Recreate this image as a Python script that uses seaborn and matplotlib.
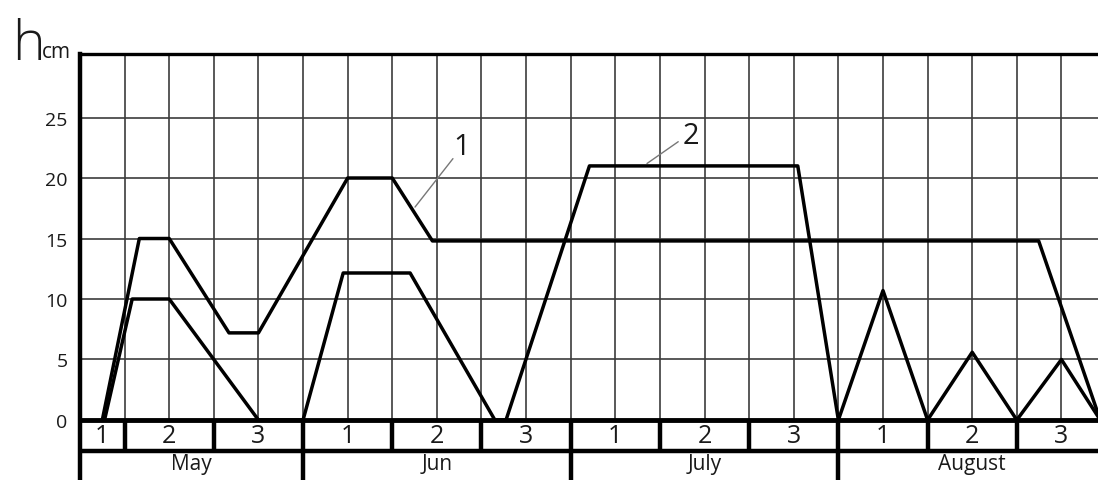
import numpy as np
import matplotlib
matplotlib.use("Agg")
import matplotlib.pyplot as plt
import seaborn as sns

# x unit = one grid cell (half a decade); May starts mid first decade
s1_x = [0.5, 1.33, 2.0, 3.34, 4.0, 6.0, 7.0, 7.9, 21.49, 22.87]
s1_y = [0.0, 15.0, 15.0, 7.2, 7.2, 20.0, 20.0, 14.8, 14.8, 0.0]

s2_x = [0.55, 1.17, 2.0, 4.0, 5.0, 5.9, 7.4, 9.3, 9.55, 11.42, 16.09, 17.0,
        18.0, 19.0, 20.0, 21.0, 22.0, 22.87]
s2_y = [0.0, 10.0, 10.0, 0.0, 0.0, 12.15, 12.15, 0.0, 0.0, 21.0, 21.0, 0.0,
        10.7, 0.0, 5.6, 0.0, 5.0, 0.0]

months = ["May", "Jun", "July", "August"]
month_edges = [0, 5, 11, 17, 23]
decade_labels = ["1", "2", "3"] * 4
decade_edges = [0, 1, 3, 5, 7, 9, 11, 13, 15, 17, 19, 21, 23]
yticks = [0, 5, 10, 15, 20, 25]

XMAX = 22.82
YTOP = 30.25
ROW1 = -2.56   # bottom of decade row
ROW2 = -4.96   # bottom of figure

sns.set_style("white")
plt.rcParams['font.family'] = ['Open Sans', 'DejaVu Sans']
TXT = "#1a1a1a"

fig = plt.figure(figsize=(10.98, 4.81), dpi=100)
ax = fig.add_axes([80 / 1098, 0, 1 - 80 / 1098, 1 - 55 / 481])
ax.set_xlim(0, XMAX)
ax.set_ylim(ROW2, YTOP)

# grid
grid_c = "#3c3c3c"
ax.vlines(np.arange(1, 23), 0, YTOP, color=grid_c, lw=1.2, zorder=1)
ax.hlines(yticks[1:], 0, XMAX, color=grid_c, lw=1.2, zorder=1)

# series
for xs, ys in [(s1_x, s1_y), (s2_x, s2_y)]:
    sns.lineplot(x=xs, y=ys, ax=ax, color="black", lw=2.5, sort=False,
                 estimator=None, zorder=3, legend=False)

# table under the chart
ax.axhline(0, color="black", lw=3.5, zorder=4)
ax.axhline(ROW1, color="black", lw=3.2, zorder=4)
ax.vlines(decade_edges[1:-1], ROW1, 0, color="black", lw=3.2, zorder=4)
ax.vlines(month_edges[1:-1], ROW2, ROW1, color="black", lw=3.2, zorder=4)
for i, lab in enumerate(decade_labels):
    xc = (decade_edges[i] + decade_edges[i + 1]) / 2
    if xc < XMAX:
        ax.text(xc, ROW1 / 2, lab, ha="center", va="center", fontsize=18,
                color=TXT, zorder=5)
for i, lab in enumerate(months):
    xc = (month_edges[i] + month_edges[i + 1]) / 2
    ax.text(xc, -3.6, lab, ha="center", va="center", fontsize=15,
            color=TXT, zorder=5)

# curve labels with leaders
ax.plot([8.36, 7.51], [21.6, 17.6], color="#777777", lw=1.0, zorder=2)
ax.text(8.56, 22.6, "1", ha="center", va="center", fontsize=21, color=TXT)
ax.plot([13.41, 12.71], [23.0, 21.2], color="#777777", lw=1.0, zorder=2)
ax.text(13.7, 23.5, "2", ha="center", va="center", fontsize=21, color=TXT)

# axes frame
ax.set_xticks([])
ax.set_yticks(yticks)
ax.set_yticklabels([str(v) for v in yticks], fontsize=14, color=TXT)
ax.tick_params(axis="y", length=0, pad=9)
for side in ["right", "bottom"]:
    ax.spines[side].set_visible(False)
ax.spines["left"].set_linewidth(3.2)
ax.spines["left"].set_color("black")
ax.spines["top"].set_linewidth(2.4)
ax.spines["top"].set_color("black")

# axis title
fig.text(12 / 1098, 1 - 60 / 481, "h", fontsize=40, fontweight="light",
         color=TXT, va="baseline", ha="left")
fig.text(42 / 1098, 1 - 58 / 481, "cm", fontsize=15, color=TXT,
         va="baseline", ha="left")

fig.savefig("out.png", dpi=100)
